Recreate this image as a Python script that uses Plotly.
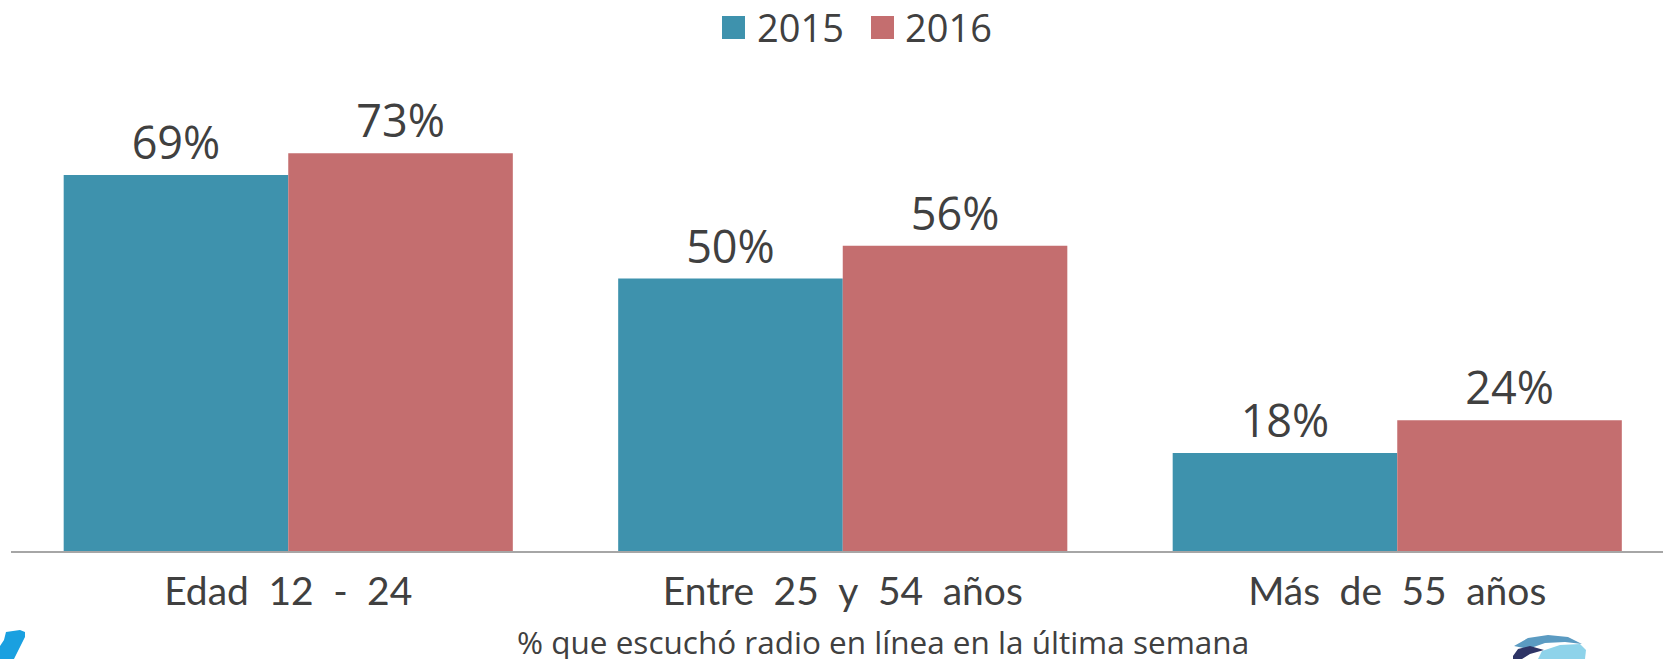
import plotly.graph_objects as go

categories = ["Edad 12 - 24", "Entre 25 y 54 años", "Más de 55 años"]
years = ["2015", "2016"]
values_2015 = [69, 50, 18]
values_2016 = [73, 56, 24]
colors = ["#3E92AD", "#C46E6F"]
caption = "% que escuchó radio en línea en la última semana"

W, H = 1663, 659
ML, MR, MT, MB = 11, 0, 60, 108
PW, PH = W - ML - MR, H - MT - MB
TEXT = "#404040"
FONT = "Open Sans"
TICKFONT = "Lato"


def px(x):
    return (x - ML) / PW


def py(y):
    return (H - MB - y) / PH


# wider word spacing as in the reference tick labels
tick_text = [c.replace(" ", "\u2002") for c in categories]

fig = go.Figure()
for name, vals, col in zip(years, [values_2015, values_2016], colors):
    fig.add_trace(go.Bar(
        x=categories, y=vals, name=name, marker=dict(color=col, line=dict(width=0)),
        texttemplate="%{y}%", textposition="outside",
        textfont=dict(size=45, color=TEXT, family=FONT),
        cliponaxis=False, showlegend=False,
    ))

shapes = []
annotations = []
# custom legend
leg_sq = [(722, 745), (871, 894)]
leg_tx = [757, 905]
for (x0, x1), tx, name, col in zip(leg_sq, leg_tx, years, colors):
    shapes.append(dict(type="rect", xref="paper", yref="paper",
                       x0=px(x0), x1=px(x1), y0=py(39), y1=py(16),
                       fillcolor=col, line=dict(width=0)))
    annotations.append(dict(text=name, xref="paper", yref="paper", x=px(tx - 2), y=py(27),
                            xanchor="left", yanchor="middle", showarrow=False,
                            font=dict(size=38, color=TEXT, family=FONT)))

annotations.append(dict(text=caption, xref="paper", yref="paper", x=px(883), y=py(641),
                        xanchor="center", yanchor="middle", showarrow=False,
                        font=dict(size=31.5, color=TEXT, family=FONT)))


def path(points):
    s = "M " + " L ".join(f"{px(a):.5f},{py(b):.5f}" for a, b in points) + " Z"
    return s

# decorative logo fragments at the bottom corners
shapes.append(dict(type="path", xref="paper", yref="paper",
                   path=path([(6, 632), (20, 630), (25, 632), (25, 637), (14, 659), (0, 659), (0, 646), (4, 640)]),
                   fillcolor="#1AA0E0", line=dict(width=0), layer="above"))
shapes.append(dict(type="path", xref="paper", yref="paper",
                   path=path([(1514, 646), (1528, 638), (1548, 635), (1568, 637), (1582, 644), (1565, 642), (1545, 643), (1528, 649)]),
                   fillcolor="#5B9BC2", line=dict(width=0)))
shapes.append(dict(type="path", xref="paper", yref="paper",
                   path=path([(1513, 656), (1518, 649), (1530, 646), (1544, 650), (1530, 654), (1522, 659), (1513, 659)]),
                   fillcolor="#2E3466", line=dict(width=0)))
shapes.append(dict(type="path", xref="paper", yref="paper",
                   path=path([(1542, 651), (1560, 645), (1580, 644), (1586, 650), (1585, 659), (1538, 659)]),
                   fillcolor="#8ED3EA", line=dict(width=0)))

fig.update_layout(
    width=W, height=H,
    margin=dict(l=ML, r=MR, t=MT, b=MB, pad=0),
    paper_bgcolor="white", plot_bgcolor="white",
    barmode="group", bargap=0.19, bargroupgap=0,
    font=dict(family=FONT, color=TEXT),
    xaxis=dict(type="category", range=[-0.5, -0.5 + PW / 554.5], showline=True,
               linecolor="#A6A6A6", linewidth=2, ticks="", showgrid=False,
               tickmode="array", tickvals=categories, ticktext=tick_text,
               ticklabelstandoff=5,
               tickfont=dict(size=39, color=TEXT, family=TICKFONT), fixedrange=True),
    yaxis=dict(range=[0, PH / 5.449], visible=False, showgrid=False, zeroline=False),
    shapes=shapes, annotations=annotations,
)

fig.write_html(
    "out.html",
    config={"displayModeBar": False},
    post_script="document.body.style.margin='0';document.body.style.overflow='hidden';",
)
